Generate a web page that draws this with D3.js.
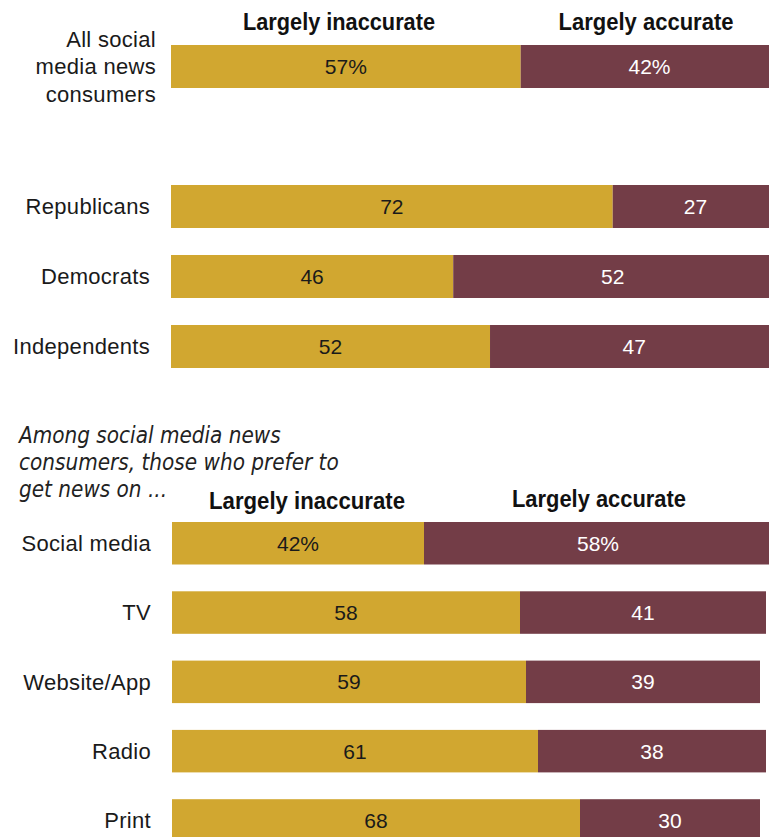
<!DOCTYPE html>
<html>
<head>
<meta charset="utf-8">
<script src="https://cdn.jsdelivr.net/npm/d3@7"></script>
<style>
  html, body { margin: 0; padding: 0; background: #fff; }
  svg { display: block; }
  .lab { font-family: "Liberation Sans", Arial, sans-serif; font-size: 22px; letter-spacing: 0.3px; fill: #1a1a1a; }
  .head { font-family: "Liberation Sans", Arial, sans-serif; font-weight: bold; font-size: 23px; fill: #111; }
  .note { font-family: "DejaVu Sans Condensed", "Liberation Sans", sans-serif; font-style: italic; font-size: 22.3px; fill: #222; }
  .val { font-family: "Liberation Sans", Arial, sans-serif; font-size: 21px; }
</style>
</head>
<body>
<script>
// ---- Data ----
const topCategories = ["All social media news consumers", "Republicans", "Democrats", "Independents"];
const topInaccurate = [57, 72, 46, 52];
const topAccurate   = [42, 27, 52, 47];

const bottomCategories = ["Social media", "TV", "Website/App", "Radio", "Print"];
const bottomInaccurate = [42, 58, 59, 61, 68];
const bottomAccurate   = [58, 41, 39, 38, 30];

const seriesNames = ["Largely inaccurate", "Largely accurate"];
const noteLines = ["Among social media news", "consumers, those who prefer to", "get news on ..."];

// ---- Drawing ----
const W = 769, H = 837;
const GOLD = "#D1A730", MAROON = "#733D47";

const svg = d3.select("body").append("svg").attr("width", W).attr("height", H);

function drawGroup(cfg) {
  const g = svg.append("g");
  const n = cfg.domain.length;
  const gapPx = cfg.step - cfg.barH;
  const y = d3.scaleBand().domain(cfg.domain)
    .range([cfg.y0, cfg.y0 + cfg.step * n - gapPx])
    .paddingInner(gapPx / cfg.step).paddingOuter(0).align(0);
  const x = d3.scaleLinear().domain([0, 100]).range(cfg.xRange);
  const rows = cfg.cats.map((c, i) => ({ cat: c, a: cfg.inacc[i], b: cfg.acc[i], i }));

  const row = g.selectAll("g.row").data(rows).join("g").attr("class", "row");
  row.append("rect")
    .attr("x", x(0)).attr("y", d => y(d.cat))
    .attr("width", d => x(d.a) - x(0)).attr("height", y.bandwidth())
    .attr("fill", GOLD);
  row.append("rect")
    .attr("x", d => x(d.a)).attr("y", d => y(d.cat))
    .attr("width", d => x(d.a + d.b) - x(d.a)).attr("height", y.bandwidth())
    .attr("fill", MAROON);
  row.append("text").attr("class", "val")
    .attr("x", d => (x(0) + x(d.a)) / 2).attr("y", d => y(d.cat) + y.bandwidth() / 2)
    .attr("dy", "0.36em").attr("text-anchor", "middle").attr("fill", "#1a1a1a")
    .text(d => d.a + (d.i === 0 ? "%" : ""));
  row.append("text").attr("class", "val")
    .attr("x", d => (x(d.a) + x(d.a + d.b)) / 2).attr("y", d => y(d.cat) + y.bandwidth() / 2)
    .attr("dy", "0.36em").attr("text-anchor", "middle").attr("fill", "#fff")
    .text(d => d.b + (d.i === 0 ? "%" : ""));

  // category labels
  row.each(function(d) {
    const wrapped = cfg.wrap && cfg.wrap[d.cat];
    const lines = wrapped ? cfg.wrap[d.cat] : [d.cat];
    const cy = y(d.cat) + y.bandwidth() / 2;
    const lh = 27.5;
    const t = d3.select(this).append("text").attr("class", "lab")
      .attr("text-anchor", "end");
    lines.forEach((ln, k) => {
      t.append("tspan").attr("x", wrapped ? cfg.wrapX : cfg.labelX)
        .attr("y", cy + (k - (lines.length - 1) / 2) * lh)
        .attr("dy", "0.36em").text(ln);
    });
  });

  // headers
  g.selectAll("text.head").data(seriesNames).join("text").attr("class", "head")
    .attr("x", (d, i) => cfg.headX[i])
    .attr("y", (d, i) => cfg.headY[i])
    .attr("text-anchor", "middle")
    .attr("textLength", (d, i) => cfg.headW[i])
    .attr("lengthAdjust", "spacingAndGlyphs")
    .text(d => d);
}

drawGroup({
  cats: topCategories, inacc: topInaccurate, acc: topAccurate,
  domain: [topCategories[0], "__gap__", ...topCategories.slice(1)],
  y0: 45, step: 70, barH: 43,
  xRange: [171, 784.5],
  labelX: 150, wrapX: 156,
  wrap: { "All social media news consumers": ["All social", "media news", "consumers"] },
  headX: [339, 646], headY: [30, 30], headW: [192, 175]
});

drawGroup({
  cats: bottomCategories, inacc: bottomInaccurate, acc: bottomAccurate,
  domain: bottomCategories,
  y0: 522, step: 69.3, barH: 42.5,
  xRange: [172, 772],
  labelX: 151,
  headX: [307, 599], headY: [509, 507], headW: [196, 174]
});

svg.append("text").attr("class", "note").selectAll("tspan").data(noteLines).join("tspan")
  .attr("x", 19).attr("y", (d, i) => 443 + i * 27).text(d => d);
</script>
</body>
</html>
